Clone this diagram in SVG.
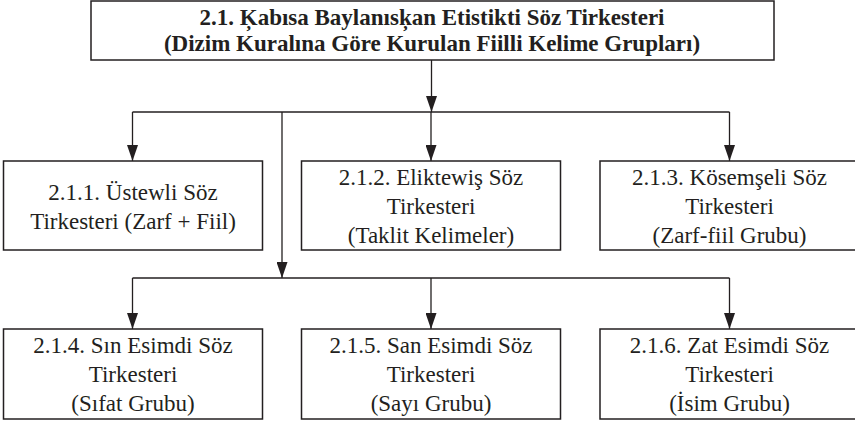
<svg xmlns="http://www.w3.org/2000/svg" width="855" height="423" viewBox="0 0 855 423">
<style>
.box{fill:#ffffff;stroke:#231f20;stroke-width:1.5}
.t{font-family:"Liberation Serif","Times New Roman",serif;font-size:23px;fill:#231f20;text-anchor:middle}
.tb{font-family:"Liberation Serif","Times New Roman",serif;font-size:23px;font-weight:bold;fill:#231f20;text-anchor:middle}
.c{fill:none;stroke:#231f20;stroke-width:1.3}
.ca{fill:none;stroke:#231f20;stroke-width:1.3;marker-end:url(#ah)}
</style>
<defs>
<marker id="ah" markerUnits="userSpaceOnUse" markerWidth="16" markerHeight="11" refX="16" refY="5.5" orient="auto" viewBox="0 0 16 11">
<path d="M0,0 L16,5.5 L0,11 z" fill="#231f20"/>
</marker>
</defs>
<rect width="855" height="423" fill="#ffffff"/>
<g id="connectors">
<path class="ca" d="M431.5,60 V112"/>
<path class="c" d="M132.5,112 H729.5"/>
<path class="ca" d="M132.5,112 V161"/>
<path class="ca" d="M431,112 V161"/>
<path class="ca" d="M729.5,112 V161"/>
<path class="ca" d="M282,112 V278"/>
<path class="c" d="M132.5,278 H729.5"/>
<path class="ca" d="M132.5,278 V329"/>
<path class="ca" d="M431,278 V329"/>
<path class="ca" d="M729.5,278 V329"/>
</g>
<g id="n0">
<rect class="box" x="91" y="1" width="683" height="59"/>
<text class="tb" x="432" y="25">2.1. Ķabısa Baylanısķan Etistikti Söz Tirkesteri</text>
<text class="tb" x="432" y="51">(Dizim Kuralına Göre Kurulan Fiilli Kelime Grupları)</text>
</g>
<g id="n1">
<rect class="box" x="3.5" y="161" width="259" height="89"/>
<text class="t" x="133" y="199.5">2.1.1. Üstewli Söz</text>
<text class="t" x="133" y="228.5">Tirkesteri (Zarf + Fiil)</text>
</g>
<g id="n2">
<rect class="box" x="301.5" y="161" width="259" height="89"/>
<text class="t" x="431" y="185">2.1.2. Eliktewiş Söz</text>
<text class="t" x="431" y="214">Tirkesteri</text>
<text class="t" x="431" y="243">(Taklit Kelimeler)</text>
</g>
<g id="n3">
<rect class="box" x="600" y="161" width="260" height="89"/>
<text class="t" x="729.5" y="185">2.1.3. Kösemşeli Söz</text>
<text class="t" x="729.5" y="214">Tirkesteri</text>
<text class="t" x="729.5" y="243">(Zarf-fiil Grubu)</text>
</g>
<g id="n4">
<rect class="box" x="3.5" y="329" width="259" height="90"/>
<text class="t" x="133" y="353">2.1.4. Sın Esimdi Söz</text>
<text class="t" x="133" y="382">Tirkesteri</text>
<text class="t" x="133" y="411">(Sıfat Grubu)</text>
</g>
<g id="n5">
<rect class="box" x="301.5" y="329" width="259" height="90"/>
<text class="t" x="431" y="353">2.1.5. San Esimdi Söz</text>
<text class="t" x="431" y="382">Tirkesteri</text>
<text class="t" x="431" y="411">(Sayı Grubu)</text>
</g>
<g id="n6">
<rect class="box" x="600" y="329" width="260" height="90"/>
<text class="t" x="729.5" y="353">2.1.6. Zat Esimdi Söz</text>
<text class="t" x="729.5" y="382">Tirkesteri</text>
<text class="t" x="729.5" y="411">(İsim Grubu)</text>
</g>
</svg>
